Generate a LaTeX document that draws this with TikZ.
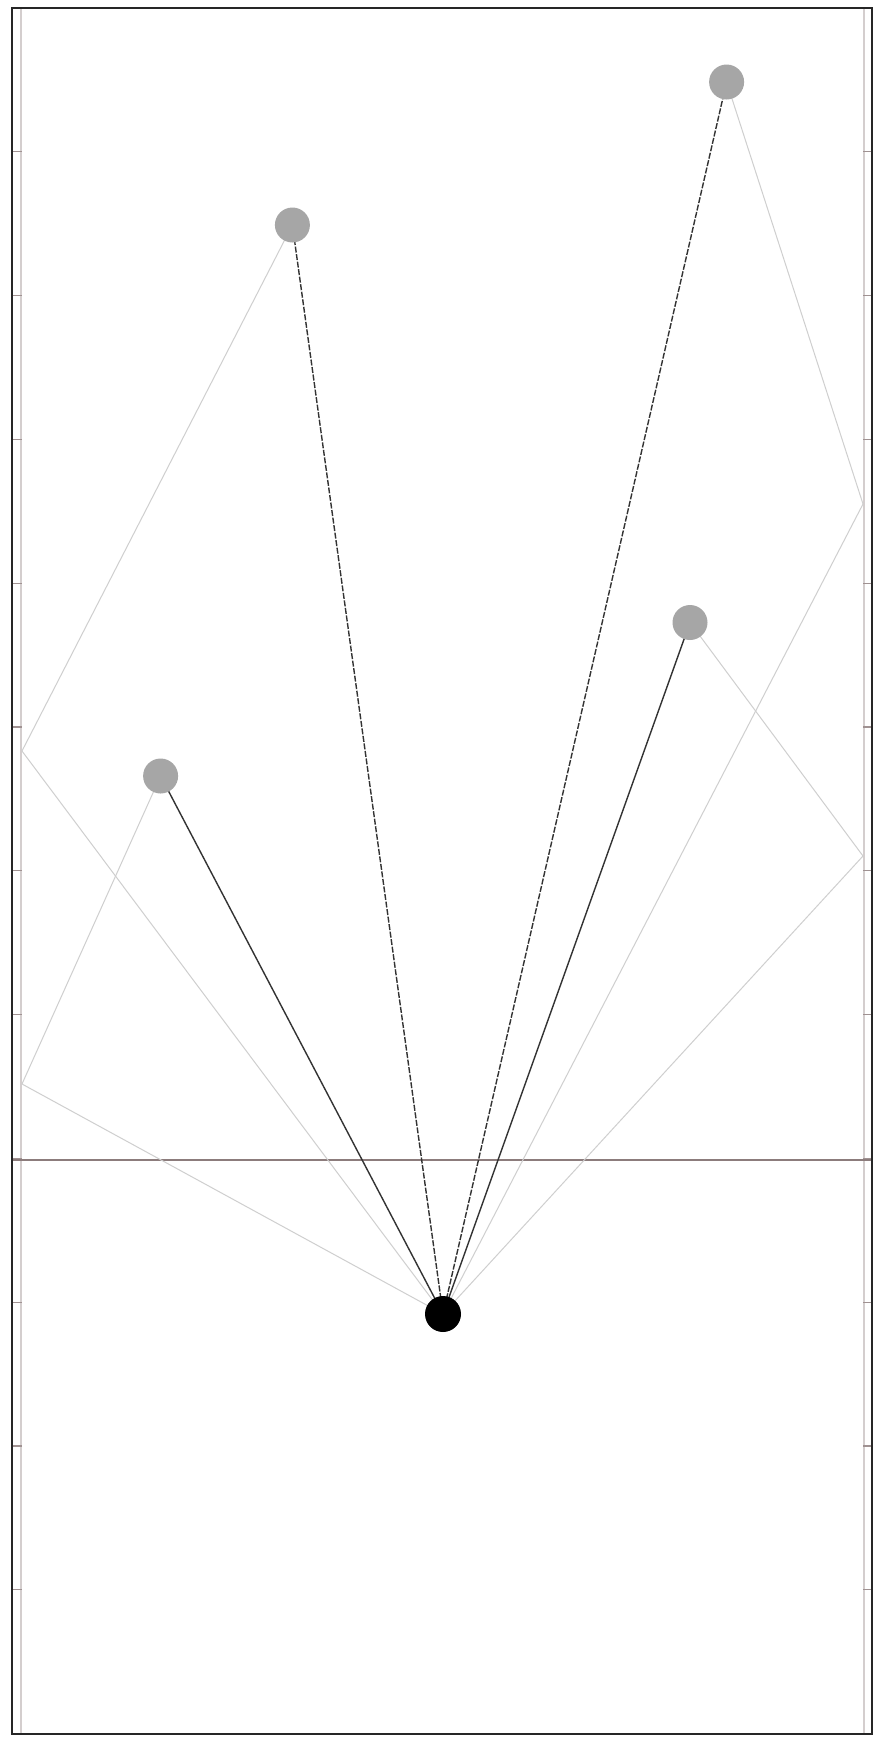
\documentclass[tikz,border=0pt]{standalone}
\usetikzlibrary{backgrounds}
\definecolor{railgray}{HTML}{D4CECE}
\definecolor{tickgray}{HTML}{A09292}
\definecolor{basegray}{HTML}{8C7C7C}
\definecolor{guidegray}{HTML}{CFCFCF}
\definecolor{jointgray}{HTML}{A6A6A6}
\begin{document}
\begin{tikzpicture}[x=0.5pt,y=-0.5pt,
  frame/.style={draw=black!85, line width=1.4pt},
  rail/.style={draw=railgray, line width=0.8pt},
  tickmark/.style={draw=tickgray, line width=0.6pt},
  baseline/.style={draw=basegray, line width=0.55pt},
  guide/.style={draw=guidegray, line width=0.5pt},
  link/.style={draw=black!80, line width=0.7pt},
  dlink/.style={link, dash pattern=on 3pt off 0.8pt},
  joint/.style={circle, fill=jointgray, minimum size=17.5pt, inner sep=0pt},
  rootjoint/.style={circle, fill=black, minimum size=18pt, inner sep=0pt}]
\useasboundingbox (0,0) rectangle (875,1737);
% joints
\node[rootjoint] (O) at (443,1314) {};
\node[joint] (A) at (160.6,776) {};
\node[joint] (B) at (292.4,225) {};
\node[joint] (C) at (726.6,82) {};
\node[joint] (D) at (690,622.5) {};
% guide corners
\coordinate (L1) at (22,1084);
\coordinate (L2) at (22,751);
\coordinate (R1) at (863,504);
\coordinate (R2) at (863,856);
\begin{scope}[on background layer]
  \fill[white] (0,0) rectangle (875,1737);
  % rails and ticks
  \draw[rail] (21,9) -- (21,1733);
  \draw[rail] (864,9) -- (864,1733);
  \foreach \k in {1,...,11}{
    \draw[tickmark] (12,{8+143.8*\k}) -- (22,{8+143.8*\k});
    \draw[tickmark] (863,{8+143.8*\k}) -- (872,{8+143.8*\k});
  }
  \draw[baseline] (12,1160) -- (872,1160);
  % guides
  \draw[guide] (O.center) -- (L1) -- (A.center);
  \draw[guide] (O.center) -- (L2) -- (B.center);
  \draw[guide] (O.center) -- (R1) -- (C.center);
  \draw[guide] (O.center) -- (R2) -- (D.center);
  % links
  \draw[link] (O.center) -- (A.center);
  \draw[dlink] (O.center) -- (B.center);
  \draw[dlink] (O.center) -- (C.center);
  \draw[link] (O.center) -- (D.center);
  % frame
  \draw[frame] (12,8) rectangle (872,1734);
\end{scope}
\end{tikzpicture}
\end{document}
